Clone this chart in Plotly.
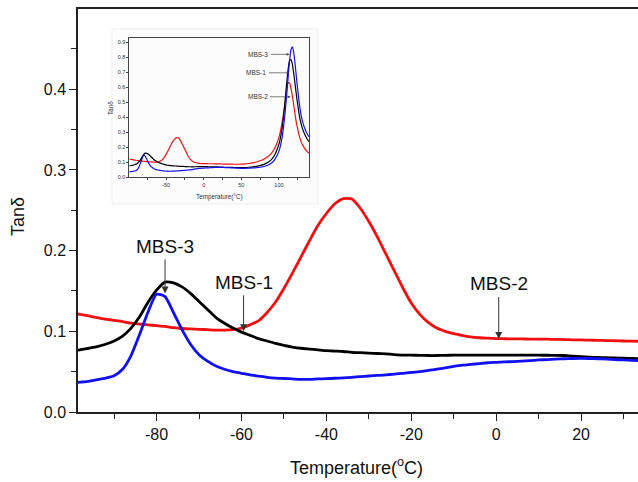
import plotly.graph_objects as go

# ---------------- data ----------------
temperature = [-99, -98, -96, -94, -92, -90, -88, -86, -84, -82, -80, -78, -76, -74, -72, -70,
               -68, -66, -64, -62, -60, -58, -56, -54, -52, -50, -48, -46, -44, -42, -40,
               -38, -36, -34, -32, -30, -28, -26, -24, -22, -20, -18, -16, -14, -12, -10,
               -8, -6, -4, -2, 0, 2, 4, 6, 8, 10, 12, 14, 16, 18, 20, 22, 24, 26, 28, 30, 32,
               36, 40, 45, 50, 55, 60, 65, 70, 75, 80, 85, 90, 94, 98, 101, 104, 106, 108,
               110, 112, 114, 116, 118, 120, 122, 124, 126, 128, 131, 134, 137, 140]

mbs2_red = [0.122, 0.121, 0.119, 0.117, 0.115, 0.1135, 0.112, 0.110, 0.109, 0.108, 0.107, 0.106,
            0.1045, 0.1035, 0.103, 0.1025, 0.102, 0.1015, 0.1015, 0.102, 0.104, 0.108, 0.113,
            0.123, 0.136, 0.153, 0.172, 0.192, 0.212, 0.231, 0.246, 0.258, 0.2645, 0.264,
            0.2525, 0.236, 0.217, 0.196, 0.175, 0.154, 0.135, 0.121, 0.111, 0.104, 0.100,
            0.097, 0.095, 0.093, 0.092, 0.0915, 0.091, 0.0908, 0.0906, 0.0905, 0.0904, 0.0903,
            0.0902, 0.090, 0.0898, 0.0895, 0.0893, 0.089, 0.0888, 0.0885, 0.0883, 0.088, 0.0878,
            0.0875, 0.087, 0.087, 0.0875, 0.089, 0.092, 0.096, 0.102, 0.110, 0.121, 0.137, 0.16,
            0.19, 0.235, 0.285, 0.36, 0.42, 0.49, 0.575, 0.630, 0.630, 0.595, 0.54, 0.47, 0.40,
            0.345, 0.30, 0.26, 0.22, 0.195, 0.175, 0.16]

mbs1_black = [0.0765, 0.077, 0.079, 0.081, 0.084, 0.088, 0.094, 0.104, 0.118, 0.136, 0.151, 0.161,
              0.160, 0.155, 0.147, 0.137, 0.127, 0.117, 0.110, 0.104, 0.099, 0.095, 0.091, 0.088,
              0.085, 0.0825, 0.0805, 0.079, 0.078, 0.077, 0.076, 0.0755, 0.075, 0.074, 0.0735,
              0.073, 0.0725, 0.072, 0.0712, 0.0706, 0.0704, 0.0702, 0.070, 0.070, 0.0702, 0.0705,
              0.0706, 0.0706, 0.0706, 0.0706, 0.0706, 0.0706, 0.0706, 0.0705, 0.0705, 0.0704,
              0.0703, 0.0702, 0.070, 0.0692, 0.0686, 0.068, 0.0676, 0.0672, 0.0669, 0.0666, 0.0664,
              0.066, 0.0655, 0.065, 0.065, 0.0655, 0.067, 0.069, 0.073, 0.078, 0.086, 0.098, 0.118,
              0.145, 0.19, 0.24, 0.32, 0.40, 0.50, 0.61, 0.71, 0.775, 0.785, 0.75, 0.68, 0.60,
              0.52, 0.45, 0.39, 0.33, 0.29, 0.26, 0.237]

mbs3_blue = [0.0365, 0.037, 0.038, 0.040, 0.042, 0.045, 0.053, 0.070, 0.096, 0.124, 0.146, 0.143,
             0.123, 0.102, 0.084, 0.071, 0.063, 0.057, 0.053, 0.050, 0.048, 0.046, 0.0445, 0.043,
             0.042, 0.0415, 0.041, 0.0405, 0.0405, 0.041, 0.0413, 0.0418, 0.0423, 0.043, 0.0438,
             0.0446, 0.0453, 0.046, 0.047, 0.048, 0.049, 0.050, 0.0515, 0.053, 0.0548, 0.0565,
             0.058, 0.059, 0.060, 0.061, 0.0615, 0.062, 0.0625, 0.063, 0.0637, 0.0645, 0.065,
             0.0655, 0.066, 0.0663, 0.0665, 0.0663, 0.066, 0.0655, 0.065, 0.0645, 0.064,
             0.063, 0.062, 0.061, 0.060, 0.060, 0.061, 0.062, 0.064, 0.067, 0.072, 0.08, 0.095,
             0.115, 0.15, 0.19, 0.26, 0.33, 0.42, 0.53, 0.65, 0.77, 0.85, 0.87, 0.82, 0.73,
             0.63, 0.54, 0.46, 0.38, 0.33, 0.295, 0.27]

series_names = ["MBS-2", "MBS-1", "MBS-3"]
x_ticks_main = [-80, -60, -40, -20, 0, 20]
x_ticklabels_main = ["-80", "-60", "-40", "-20", "0", "20"]
y_ticks_main = [0.0, 0.1, 0.2, 0.3, 0.4]
x_ticks_inset = [-50, 0, 50, 100]
x_ticklabels_inset = ["-50", "0", "50", "100"]
y_ticks_inset = [0.0, 0.1, 0.2, 0.3, 0.4, 0.5, 0.6, 0.7, 0.8, 0.9]

# ---------------- layout geometry ----------------
W, H = 638, 482
L, R, T, B = 78, 0, 9, 70
PW, PH = W - L - R, H - T - B


def px(x):
    return (x - L) / PW


def py(y):
    return (H - B - y) / PH


FONT = "Liberation Sans, Arial, sans-serif"
colors = ["#f01010", "#000000", "#1010f0"]
series = [mbs2_red, mbs1_black, mbs3_blue]

fig = go.Figure()
for name, vals, col in zip(series_names, series, colors):
    fig.add_trace(go.Scatter(x=temperature, y=vals, mode="lines", name=name,
                             line=dict(color=col, width=2.8, shape="spline", smoothing=0.6),
                             xaxis="x", yaxis="y", showlegend=False))

# inset background (pasted image area)
fig.add_shape(type="rect", xref="paper", yref="paper",
              x0=px(112), x1=px(318), y0=py(204), y1=py(29),
              fillcolor="#fcfcfc", line=dict(color="#efefef", width=1), layer="below")

for name, vals, col in zip(series_names, series, colors):
    fig.add_trace(go.Scatter(x=temperature, y=vals, mode="lines", name=name + " (inset)",
                             line=dict(color=col, width=1.2, shape="spline", smoothing=0.6),
                             xaxis="x2", yaxis="y2", showlegend=False))

axis_font = dict(family=FONT, size=16, color="#111")

fig.update_layout(
    width=W, height=H,
    margin=dict(l=L, r=R, t=T, b=B, pad=0),
    paper_bgcolor="white", plot_bgcolor="rgba(0,0,0,0)",
    font=dict(family=FONT, color="#111"),
    xaxis=dict(range=[-98.5, 33.4], tickvals=x_ticks_main, ticktext=x_ticklabels_main,
               ticks="outside", ticklen=7,
               tickwidth=1.3, tickcolor="#222", showline=True, linecolor="#222", linewidth=1.5,
               mirror=True, showgrid=False, zeroline=False, tickfont=axis_font,
               automargin=False,
               minor=dict(dtick=10, tick0=0, ticks="outside", ticklen=5, tickwidth=1.2,
                          tickcolor="#222", showgrid=False)),
    yaxis=dict(range=[0, 0.4994], tickvals=y_ticks_main, tickformat=".1f", ticks="outside",
               ticklen=7, tickwidth=1.3, tickcolor="#222", showline=True, linecolor="#222",
               linewidth=1.5, showgrid=False, zeroline=False, tickfont=axis_font,
               automargin=False,
               minor=dict(dtick=0.05, tick0=0, ticks="outside", ticklen=5, tickwidth=1.2,
                          tickcolor="#222", showgrid=False)),
    xaxis2=dict(domain=[px(129.3), px(309)], anchor="y2", range=[-99, 140],
                tickvals=x_ticks_inset, ticktext=x_ticklabels_inset, ticks="outside",
                ticklen=2, tickwidth=0.8,
                tickcolor="#444", showline=True, linecolor="#444", linewidth=0.8, mirror=True,
                showgrid=False, zeroline=False, automargin=False,
                tickfont=dict(family=FONT, size=5.5, color="#333"),
                minor=dict(dtick=25, tick0=0, ticks="outside", ticklen=1.5, tickwidth=0.6,
                           tickcolor="#444")),
    yaxis2=dict(domain=[py(177.3), py(38.3)], anchor="x2", range=[0, 0.927],
                tickvals=y_ticks_inset, tickformat=".1f", ticks="outside", ticklen=2,
                tickwidth=0.8, tickcolor="#444", showline=True, linecolor="#444", linewidth=0.8,
                mirror=True, showgrid=False, zeroline=False, automargin=False,
                tickfont=dict(family=FONT, size=5.5, color="#333")),
)

# axis titles
fig.add_annotation(xref="paper", yref="paper", x=px(356), y=py(466), xanchor="center",
                   yanchor="middle", text="Temperature(<sup>o</sup>C)", showarrow=False,
                   font=dict(family=FONT, size=18, color="#111"))
fig.add_annotation(xref="paper", yref="paper", x=px(18), y=py(217), xanchor="center",
                   yanchor="middle", text="Tanδ", textangle=-90, showarrow=False,
                   font=dict(family=FONT, size=18, color="#111"))
fig.add_annotation(xref="paper", yref="paper", x=px(219), y=py(197), xanchor="center",
                   yanchor="middle", text="Temperature(°C)", showarrow=False,
                   font=dict(family=FONT, size=6.3, color="#333"))
fig.add_annotation(xref="paper", yref="paper", x=px(110), y=py(108), xanchor="center",
                   yanchor="middle", text="Tanδ", textangle=-90, showarrow=False,
                   font=dict(family=FONT, size=6.3, color="#333"))

# main labels with downward arrows: (label, arrow x, tip y, offset of text centre in px)
main_labels = [("MBS-3", -78.0, 0.147, -47),
               ("MBS-1", -59.5, 0.100, -49),
               ("MBS-2", 0.6, 0.0905, -55)]
for txt, xx, tip, off in main_labels:
    fig.add_annotation(x=xx, y=tip, xref="x", yref="y", ax=0, ay=off, text=txt,
                       showarrow=True, arrowhead=2, arrowsize=1.4, arrowwidth=1,
                       arrowcolor="#333", startstandoff=1,
                       font=dict(family=FONT, size=19, color="#111"))

# inset labels with rightward arrows: (label, tip x, y, text offset in px)
inset_labels = [("MBS-3", 114.0, 0.82, -31),
                ("MBS-1", 114.0, 0.697, -33),
                ("MBS-2", 115.5, 0.537, -33)]
for txt, tip, yy, off in inset_labels:
    fig.add_annotation(x=tip, y=yy, xref="x2", yref="y2", ax=off, ay=0, text=txt,
                       showarrow=True, arrowhead=2, arrowsize=0.8, arrowwidth=0.7,
                       arrowcolor="#444", startstandoff=1,
                       font=dict(family=FONT, size=6.5, color="#333"))

fig.write_html("out.html", config={"displayModeBar": False},
               post_script="document.body.style.margin='0px';")
